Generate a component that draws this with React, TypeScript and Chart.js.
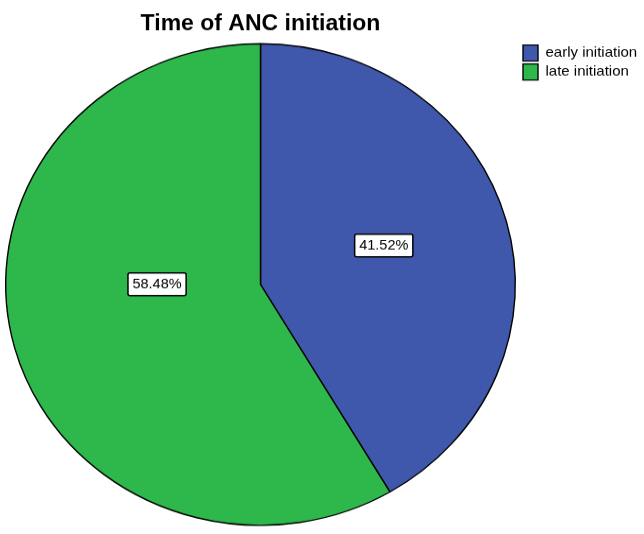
import React, { useEffect, useRef } from "react";
import { Chart, registerables } from "chart.js";

Chart.register(...registerables);

// ---- data ----
const TITLE = "Time of ANC initiation";
const CATEGORIES = ["early initiation", "late initiation"];
const PERCENTAGES = [41.52, 58.48];
const COLORS = ["#3F58AC", "#2EB84B"];

// ---- layout / style constants ----
const W = 644;
const H_DISPLAY = 534;
const H = 565; // internal canvas height; reference pie is slightly squashed vertically
const SY = H / H_DISPLAY;

const PIE_LEFT = 2;
const PIE_RIGHT = 519;
const PIE_TOP = 45.5;
const PIE_BOTTOM = 556.5;

const LEGEND_PAD = 3;
const LEGEND_BOX_X = 523;
const LEGEND_BOX_Y = 45 * SY;

const LABEL_ANGLE_SHIFT_DEG = [-3.2, 15.4];
const LABEL_RADIUS_FRAC = [0.51, 0.406];

const FONT = "Arial, 'Liberation Sans', sans-serif";

const titlePlugin = {
  id: "customTitle",
  afterDraw(chart: any) {
    const meta = chart.getDatasetMeta(0);
    const arc = meta.data[0];
    if (!arc) return;
    const ctx = chart.ctx;
    ctx.save();
    ctx.font = `bold 23px ${FONT}`;
    ctx.fillStyle = "#000";
    ctx.textAlign = "center";
    ctx.textBaseline = "alphabetic";
    ctx.fillText(TITLE, arc.x, 30 * SY);
    ctx.restore();
  },
};

const sliceLabelPlugin = {
  id: "sliceLabels",
  afterDatasetsDraw(chart: any) {
    const meta = chart.getDatasetMeta(0);
    const ctx = chart.ctx;
    const values = chart.data.datasets[0].data as number[];
    meta.data.forEach((el: any, i: number) => {
      const { x, y, startAngle, endAngle, outerRadius } = el.getProps(
        ["x", "y", "startAngle", "endAngle", "outerRadius"],
        true
      );
      const mid = (startAngle + endAngle) / 2 + (LABEL_ANGLE_SHIFT_DEG[i] * Math.PI) / 180;
      const r = outerRadius * LABEL_RADIUS_FRAC[i];
      const cx = x + Math.cos(mid) * r;
      const cy = y + Math.sin(mid) * r;
      const text = `${values[i].toFixed(2)}%`;
      ctx.save();
      ctx.font = `14.5px ${FONT}`;
      const tw = ctx.measureText(text).width;
      const bw = tw + 9;
      const bh = 24;
      ctx.beginPath();
      if ((ctx as any).roundRect) {
        (ctx as any).roundRect(cx - bw / 2, cy - bh / 2, bw, bh, 2);
      } else {
        ctx.rect(cx - bw / 2, cy - bh / 2, bw, bh);
      }
      ctx.fillStyle = "#fff";
      ctx.fill();
      ctx.lineWidth = 1.5;
      ctx.strokeStyle = "#000";
      ctx.stroke();
      ctx.fillStyle = "#000";
      ctx.textAlign = "center";
      ctx.textBaseline = "middle";
      ctx.fillText(text, cx, cy + 0.5);
      ctx.restore();
    });
  },
};

const legendPlacementPlugin = {
  id: "legendPlacement",
  afterLayout(chart: any) {
    const lg = chart.legend;
    if (!lg) return;
    const dx = LEGEND_BOX_X - LEGEND_PAD - lg.left;
    const dy = LEGEND_BOX_Y - LEGEND_PAD - lg.top;
    lg.left += dx;
    lg.right += dx;
    lg.top += dy;
    lg.bottom += dy;
  },
};

export default function App() {
  const canvasRef = useRef<HTMLCanvasElement | null>(null);

  useEffect(() => {
    const canvas = canvasRef.current;
    if (!canvas) return;
    const chart = new Chart(canvas, {
      type: "pie",
      data: {
        labels: CATEGORIES,
        datasets: [
          {
            data: PERCENTAGES,
            backgroundColor: COLORS,
            borderColor: "#000",
            borderWidth: 1.4,
          },
        ],
      },
      options: {
        responsive: false,
        animation: false,
        devicePixelRatio: 1,
        layout: {
          padding: {
            left: PIE_LEFT,
            top: PIE_TOP,
            bottom: H - PIE_BOTTOM,
            right: 5,
          },
        },
        plugins: {
          tooltip: { enabled: false },
          title: { display: false },
          legend: {
            display: true,
            position: "right",
            align: "start",
            labels: {
              boxWidth: 15,
              boxHeight: 17,
              padding: LEGEND_PAD,
              color: "#000",
              font: { family: FONT, size: 15 },
            },
          },
        },
      } as any,
      plugins: [titlePlugin, sliceLabelPlugin, legendPlacementPlugin],
    });
    const lw = chart.legend ? chart.legend.width : 0;
    (chart.options.layout as any).padding.right = W - PIE_RIGHT - lw;
    chart.update();
    return () => chart.destroy();
  }, []);

  return (
    <div style={{ position: "absolute", left: 0, top: 0, width: W, height: H_DISPLAY, background: "#fff" }}>
      <canvas
        ref={canvasRef}
        width={W}
        height={H}
        style={{ width: `${W}px`, height: `${H_DISPLAY}px`, display: "block" }}
      />
    </div>
  );
}
